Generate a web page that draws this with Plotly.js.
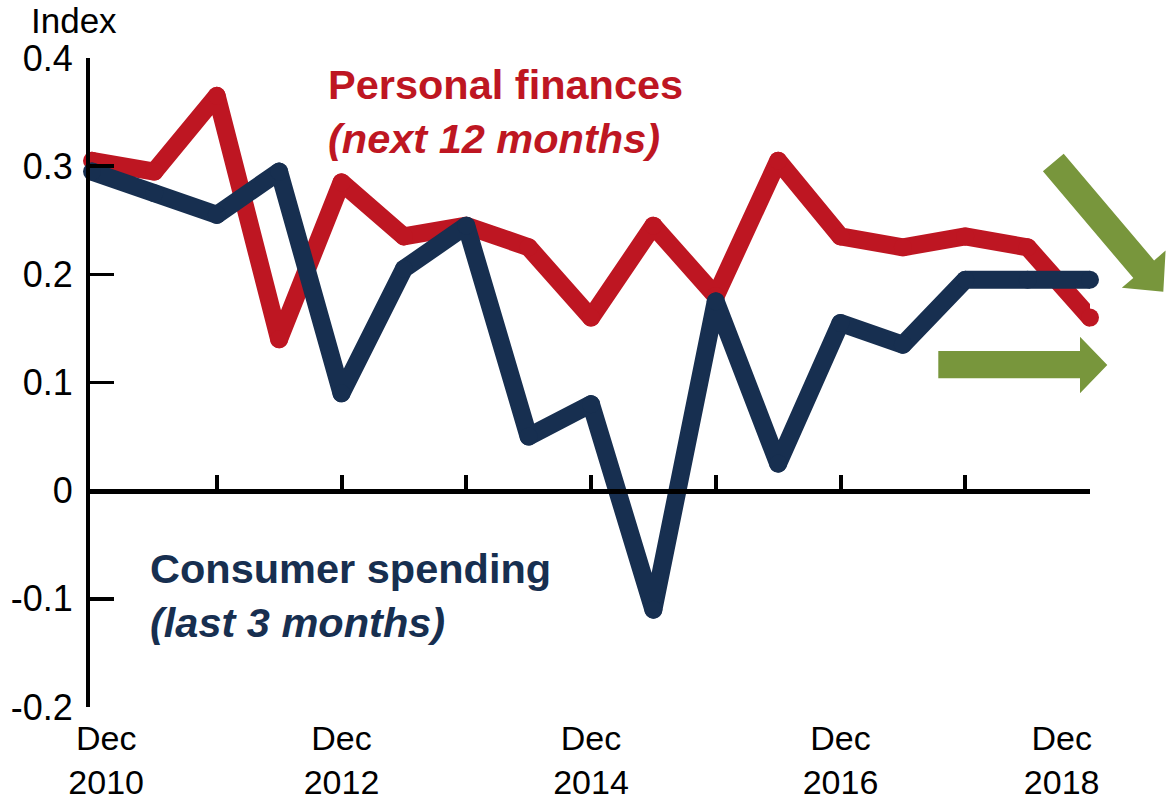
<!DOCTYPE html>
<html><head><meta charset="utf-8">
<script src="https://cdn.plot.ly/plotly-3.0.1.min.js"></script>
<style>
html,body{margin:0;padding:0;background:#fff}
#chart .scatterlayer path{stroke-linejoin:round !important;stroke-linecap:round !important}
</style>
</head><body><div id="chart" style="width:1167px;height:806px"></div>
<script>
const periods = ['Dec 2010','Jun 2011','Dec 2011','Jun 2012','Dec 2012','Jun 2013','Dec 2013','Jun 2014','Dec 2014','Jun 2015','Dec 2015','Jun 2016','Dec 2016','Jun 2017','Dec 2017','Jun 2018','Dec 2018'];
const personalFinances = [0.305,0.295,0.365,0.14,0.285,0.235,0.245,0.225,0.16,0.245,0.18,0.305,0.235,0.225,0.235,0.225,0.16];
const consumerSpending = [0.295,0.275,0.255,0.295,0.09,0.205,0.245,0.05,0.08,-0.11,0.175,0.025,0.155,0.135,0.195,0.195,0.195];
const xLabelVals = ['Dec 2010','Dec 2012','Dec 2014','Dec 2016','Dec 2018'];
const NB = '\u00a0';
const xLabelText = [NB+NB+NB+'Dec<br>'+NB+NB+NB+'2010','Dec<br>2012','Dec<br>2014','Dec<br>2016','Dec'+NB.repeat(6)+'<br>2018'+NB.repeat(6)];
const zeroTickVals = ['Dec 2011','Dec 2012','Dec 2013','Dec 2014','Dec 2015','Dec 2016','Dec 2017','Dec 2018'];
const yTickVals = [-0.2,-0.1,0,0.1,0.2,0.3,0.4];
const yTickText = ['-0.2','-0.1','0','0.1','0.2','0.3','0.4'];

const RED = '#BE1622', NAVY = '#172F50', GREEN = '#78963C';
const FONT = '"Liberation Sans", Arial, sans-serif';
const LW = 18;

// pixel -> paper helpers for decorations (plot area 90..1090 x 58..707)
const L = 90, R = 1090, T = 58, B = 707;
const px = x => (x - L) / (R - L);
const py = y => 1 - (y - T) / (B - T);
function pathFrom(pts){ return pts.map((p,i)=>(i?'L':'M')+px(p[0]).toFixed(5)+','+py(p[1]).toFixed(5)).join(' ')+' Z'; }

const diagArrow = [[1042.9,171.3],[1133.3,278.0],[1121.8,287.8],[1163.3,291.7],[1165.6,250.6],[1154.1,260.4],[1063.7,153.7]];
const flatArrow = [[938.3,351],[1080,351],[1080,336.7],[1107.3,365],[1080,393.3],[1080,378.3],[938.3,378.3]];

const traces = [
  {x: periods, y: personalFinances, type:'scatter', mode:'lines+markers', cliponaxis:false,
   line:{color:RED, width:LW}, marker:{color:RED, size:LW, line:{width:0}}, hoverinfo:'skip', showlegend:false},
  {x: periods, y: consumerSpending, type:'scatter', mode:'lines+markers', cliponaxis:false,
   line:{color:NAVY, width:LW}, marker:{color:NAVY, size:LW, line:{width:0}}, hoverinfo:'skip', showlegend:false},
  {x: periods, y: consumerSpending, xaxis:'x2', type:'scatter', mode:'markers', marker:{size:1, opacity:0}, hoverinfo:'skip', showlegend:false}
];

const xr = [-0.032, 16];
const layout = {
  width:1167, height:806,
  margin:{l:L, r:1167-R, t:T, b:806-B},
  paper_bgcolor:'#fff', plot_bgcolor:'rgba(0,0,0,0)',
  font:{family:FONT, color:'#000', size:34},
  showlegend:false,
  xaxis:{type:'category', categoryorder:'array', categoryarray:periods, range:xr,
    showline:false, showgrid:false, zeroline:false, ticks:'',
    tickmode:'array', tickvals:xLabelVals, ticktext:xLabelText,
    tickfont:{family:FONT, size:34, color:'#000'}, ticklabelstandoff:8, fixedrange:true},
  xaxis2:{type:'category', categoryorder:'array', categoryarray:periods, range:xr,
    overlaying:'x', anchor:'free', position:1/3, side:'bottom',
    showline:true, linecolor:'#000', linewidth:5,
    ticks:'inside', ticklen:14, tickwidth:4, tickcolor:'#000',
    tickmode:'array', tickvals:zeroTickVals, showticklabels:false,
    showgrid:false, zeroline:false, fixedrange:true},
  yaxis:{range:[-0.2,0.4], showline:true, linecolor:'#000', linewidth:4,
    ticks:'inside', ticklen:24, tickwidth:3.5, tickcolor:'#000',
    tickmode:'array', tickvals:yTickVals, ticktext:yTickText,
    tickfont:{family:FONT, size:36, color:'#000'}, ticklabelstandoff:6,
    showgrid:false, zeroline:false, fixedrange:true},
  annotations:[
    {text:'Index', xref:'paper', yref:'paper', x:px(119), y:py(21), xanchor:'right', yanchor:'middle',
     showarrow:false, font:{family:FONT, size:35, color:'#000'}},
    {text:'<b>Personal finances</b><br><b><i>(next 12 months)</i></b>', xref:'paper', yref:'paper',
     x:px(326), y:py(112), xanchor:'left', yanchor:'middle', align:'left',
     showarrow:false, font:{family:FONT, size:41.5, color:RED}},
    {text:'<b>Consumer spending</b><br><b><i>(last 3 months)</i></b>', xref:'paper', yref:'paper',
     x:px(148), y:py(595), xanchor:'left', yanchor:'middle', align:'left',
     showarrow:false, font:{family:FONT, size:41.5, color:NAVY}}
  ],
  shapes:[
    {type:'path', xref:'paper', yref:'paper', path:pathFrom(diagArrow), fillcolor:GREEN, line:{width:0}, layer:'above'},
    {type:'path', xref:'paper', yref:'paper', path:pathFrom(flatArrow), fillcolor:GREEN, line:{width:0}, layer:'above'}
  ]
};

Plotly.newPlot('chart', traces, layout, {staticPlot:true, displayModeBar:false});
</script>
</body></html>
